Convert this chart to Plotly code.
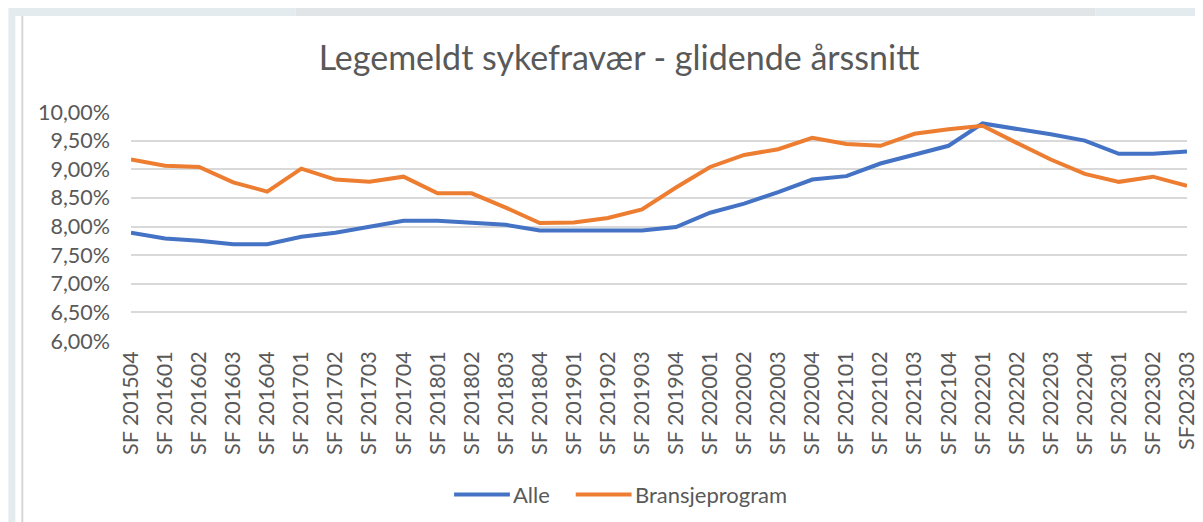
import plotly.graph_objects as go

categories = ["SF 201504", "SF 201601", "SF 201602", "SF 201603", "SF 201604",
              "SF 201701", "SF 201702", "SF 201703", "SF 201704",
              "SF 201801", "SF 201802", "SF 201803", "SF 201804",
              "SF 201901", "SF 201902", "SF 201903", "SF 201904",
              "SF 202001", "SF 202002", "SF 202003", "SF 202004",
              "SF 202101", "SF 202102", "SF 202103", "SF 202104",
              "SF 202201", "SF 202202", "SF 202203", "SF 202204",
              "SF 202301", "SF 202302", "SF202303"]

alle = [7.89, 7.79, 7.75, 7.69, 7.69, 7.82, 7.89, 7.99, 8.10, 8.10, 8.07, 8.03,
        7.93, 7.93, 7.93, 7.93, 7.99, 8.24, 8.40, 8.60, 8.82, 8.88, 9.10, 9.25,
        9.41, 9.80, 9.71, 9.61, 9.50, 9.27, 9.27, 9.31]

bransjeprogram = [9.17, 9.06, 9.04, 8.77, 8.61, 9.01, 8.82, 8.78, 8.87, 8.58, 8.58, 8.33,
                  8.06, 8.07, 8.15, 8.30, 8.68, 9.04, 9.25, 9.35, 9.55, 9.44, 9.41, 9.62,
                  9.70, 9.76, 9.46, 9.17, 8.92, 8.78, 8.87, 8.71]

series_names = ["Alle", "Bransjeprogram"]
series_colors = ["#4472C4", "#ED7D31"]
title_text = "Legemeldt sykefravær - glidende årssnitt"

W, H = 1203, 522
L, R, T, B = 123, 1182, 104, 333
FONT = "Lato, 'Open Sans', sans-serif"
TXT = "#595959"


def px(p):
    return (p - L) / (R - L)


def py(p):
    return (B - p) / (B - T)


fig = go.Figure()
for name, vals, col in zip(series_names, [alle, bransjeprogram], series_colors):
    fig.add_trace(go.Scatter(x=categories, y=vals, mode="lines", name=name,
                             line=dict(color=col, width=4), showlegend=False))

shapes = []
# page background decorations
bg = "#e3ebee"
shapes.append(dict(type="rect", xref="paper", yref="paper", x0=px(0), x1=px(288),
                   y0=py(8), y1=py(0), fillcolor=bg, line=dict(width=0), layer="below"))
shapes.append(dict(type="rect", xref="paper", yref="paper", x0=px(288), x1=px(1090),
                   y0=py(8), y1=py(0), fillcolor="#e1e5e7", line=dict(width=0), layer="below"))
shapes.append(dict(type="rect", xref="paper", yref="paper", x0=px(1090), x1=px(1203),
                   y0=py(8), y1=py(0), fillcolor=bg, line=dict(width=0), layer="below"))
shapes.append(dict(type="rect", xref="paper", yref="paper", x0=px(0), x1=px(7),
                   y0=py(522), y1=py(8), fillcolor=bg, line=dict(width=0), layer="below"))
shapes.append(dict(type="line", xref="paper", yref="paper", x0=px(14), x1=px(14),
                   y0=py(522), y1=py(8), line=dict(color="#d6d6d6", width=2), layer="below"))

# legend
annotations = []
leg_y = 486.5
leg_items = [(447, 503, 504), (569, 625, 626)]
for (x0, x1, xt), name, col in zip(leg_items, series_names, series_colors):
    shapes.append(dict(type="line", xref="paper", yref="paper", x0=px(x0), x1=px(x1),
                       y0=py(leg_y), y1=py(leg_y), line=dict(color=col, width=4)))
    annotations.append(dict(xref="paper", yref="paper", x=px(xt), y=py(leg_y),
                            text=name, showarrow=False, xanchor="left", yanchor="middle",
                            font=dict(family=FONT, size=22, color=TXT)))

fig.update_layout(
    width=W, height=H,
    margin=dict(l=L, r=W - R, t=T, b=H - B, pad=0),
    paper_bgcolor="white", plot_bgcolor="white",
    separators=", ",
    title=dict(text=title_text, x=611 / W, xanchor="center", y=1 - 50 / H, yanchor="middle",
               font=dict(family=FONT, size=34, color=TXT)),
    shapes=shapes, annotations=annotations,
    showlegend=False,
)
fig.update_xaxes(type="category", tickangle=-90, showgrid=False, showline=False,
                 ticks="", tickfont=dict(family=FONT, size=21.5, color=TXT),
                 ticklabelstandoff=5, fixedrange=True)
fig.update_yaxes(range=[6, 10], dtick=0.5, tickformat=".2f", ticksuffix="%",
                 showgrid=True, gridcolor="#d9d9d9", gridwidth=1.5, zeroline=False,
                 showline=False, ticks="", tickfont=dict(family=FONT, size=21.5, color=TXT),
                 ticklabelstandoff=20, fixedrange=True)

fig.write_html("out.html")
